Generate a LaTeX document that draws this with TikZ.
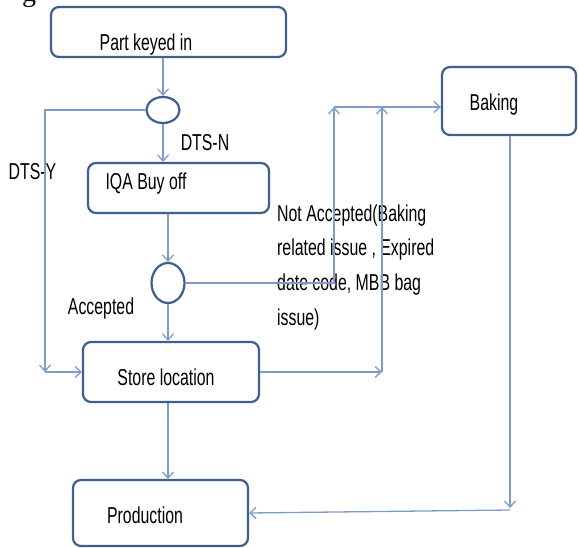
\documentclass[tikz,border=0pt]{standalone}
\usepackage{fontspec}
\setmainfont{Liberation Sans}[FakeStretch=0.69]
\newfontfamily\captionserif{Liberation Serif}
\usetikzlibrary{arrows.meta,shapes.geometric}

\definecolor{boxline}{HTML}{3F5F8C}
\definecolor{flowline}{HTML}{7F9CC8}

\tikzset{
  x=1pt, y=-1pt,
  procbox/.style={draw=boxline, line width=2.2pt, rounded corners=8pt,
    fill=white, inner sep=0pt},
  decision/.style={draw=boxline, line width=2.2pt, ellipse, fill=white,
    inner sep=0pt},
  flow/.style={draw=flowline, line width=1.3pt},
  arr/.style={flow, -{Straight Barb[length=6pt,width=11pt]}},
  txt/.style={font=\fontsize{23}{34.7}\selectfont, inner sep=0pt, anchor=base},
}

\begin{document}
\begin{tikzpicture}
\useasboundingbox (0,0) rectangle (579,548);

% clipped caption letter at the top edge
\node[font=\captionserif\fontsize{28}{30}\selectfont, inner sep=0pt, anchor=base]
  (capg) at (29,2) {g};

% process boxes
\node[procbox, minimum width=235pt, minimum height=50pt] (part)  at (168.5,32)  {};
\node[procbox, minimum width=181pt, minimum height=50pt] (iqa)   at (178.5,188) {};
\node[procbox, minimum width=176pt, minimum height=60pt] (store) at (171,372)   {};
\node[procbox, minimum width=175pt, minimum height=66pt] (prod)  at (160.5,513) {};
\node[procbox, minimum width=134pt, minimum height=68pt] (bake)  at (509,101)   {};

% decision points
\node[decision, minimum width=33pt, minimum height=26pt] (c1) at (163,110) {};
\node[decision, minimum width=33pt, minimum height=40pt] (c2) at (168,283) {};

% box captions
\node[txt] (partT)  at (146,51)  {Part keyed in};
\node[txt] (iqaT)   at (146,190) {IQA Buy off};
\node[txt] (storeT) at (166,385) {Store location};
\node[txt] (bakeT)  at (494,111) {Baking};
\node[txt] (prodT)  at (145,523) {Production};

% branch labels
\node[txt] (dtsN) at (205,151) {DTS-N};
\node[txt] (dtsY) at (32.5,180) {DTS-Y};
\node[txt] (acc)  at (101,315) {Accepted};
\node[txt, anchor=north west, align=left] (notacc) at (277,196.7)
  {\strut Not Accepted(Baking\\related issue , Expired\\date code, MBB bag\\issue)};

% turning points of the connectors
\coordinate (yCorner) at (45,110);
\coordinate (yEnd)    at (45,372);
\coordinate (rejTurn) at (334,283);
\coordinate (rejTop)  at (334,107);
\coordinate (stTurn)  at (382,372);
\coordinate (stTop)   at (382,107);
\coordinate (bakeIn)  at (bake.west |- 0,107);
\coordinate (bkDown)  at (510,508);
\coordinate (bkTurn)  at (510,510);

% main line
\draw[arr] (c1 |- part.south) -- (c1.north);
\draw[arr] (c1.south) -- (c1 |- iqa.north);
\draw[arr] (c2 |- iqa.south) -- (c2.north);
\draw[arr] (c2.south) -- (c2 |- store.north);
\draw[arr] (c2 |- store.south) -- (c2 |- prod.north);

% DTS-Y bypass
\draw[arr] (c1.west) -- (yCorner) -- (yEnd);
\draw[arr] (yEnd) -- (store.west);

% rejected parts and store to baking
\draw[arr] (c2.east) -- (rejTurn) -- (rejTop);
\draw[arr] (store.east) -- (stTurn);
\draw[arr] (stTurn) -- (stTop);
\draw[arr] (rejTop) -- (bakeIn);

% baking back to production
\draw[arr] (bake.south -| bkDown) -- (bkDown);
\draw[arr] (bkTurn) -- (prod.east);
\end{tikzpicture}
\end{document}
